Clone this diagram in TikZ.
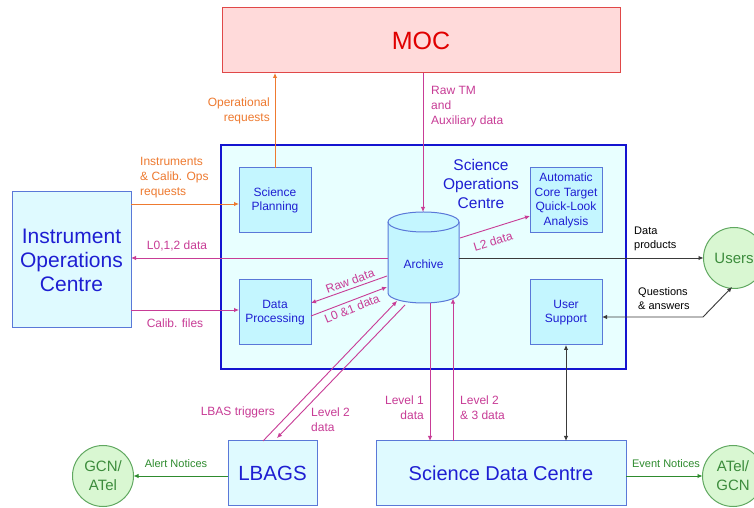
\documentclass[tikz,border=0pt]{standalone}
\usepackage{fontspec}
\setmainfont{Liberation Sans}
\usetikzlibrary{arrows.meta}
\definecolor{mag}{HTML}{C83C96}
\definecolor{orng}{HTML}{EE7A30}
\definecolor{tblue}{HTML}{1E1ED2}
\definecolor{boxb}{HTML}{5A78D8}
\definecolor{socb}{HTML}{1414D0}
\definecolor{boxf}{HTML}{C4F6FF}
\definecolor{socf}{HTML}{E8FFFF}
\definecolor{bigf}{HTML}{DFFAFF}
\definecolor{mocf}{HTML}{FFDADA}
\definecolor{mocb}{HTML}{E04848}
\definecolor{moct}{HTML}{E00000}
\definecolor{grn}{HTML}{2E8B2E}
\definecolor{circf}{HTML}{D9F7D2}
\definecolor{circb}{HTML}{60A860}
\definecolor{circt}{HTML}{3C8C3C}
\definecolor{dgray}{HTML}{3A3A3A}
\tikzset{
  smallbox/.style={draw=boxb, fill=boxf, line width=1pt, text=tblue, align=center,
    inner sep=0pt, outer sep=0pt, minimum width=72, minimum height=65,
    font=\fontsize{12}{14.7}\selectfont},
  bigbox/.style={draw=boxb, fill=bigf, line width=1pt, text=tblue, align=center,
    inner sep=0pt, outer sep=0pt},
  circ/.style={circle, draw=circb, fill=circf, line width=1pt, text=circt, align=center,
    inner sep=0pt, outer sep=0pt, minimum size=61, font=\fontsize{15}{19}\selectfont},
  lab/.style={font=\fontsize{12}{15}\selectfont, inner sep=0pt},
  slab/.style={font=\fontsize{11}{14}\selectfont, inner sep=0pt},
  magline/.style={draw=mag, line width=0.9pt},
  orline/.style={draw=orng, line width=0.9pt},
  grline/.style={draw=grn, line width=0.9pt},
  blkline/.style={draw=dgray, line width=0.9pt},
}
\begin{document}
\begin{tikzpicture}[x=1pt,y=1pt,>={Latex[length=5pt,width=4.5pt]}]
\useasboundingbox (0,0) rectangle (754,508);
\clip (0,0) rectangle (754,508);
\fill[white] (0,0) rectangle (754,508);
% SOC
\node[draw=socb, fill=socf, line width=2.2pt, inner sep=0pt, outer sep=0pt,
  minimum width=405, minimum height=224] (soc) at (423.5,251) {};
\node[text=tblue, align=center, font=\fontsize{15.5}{19}\selectfont] (soct) at (481,324)
  {Science\\Operations\\Centre};
% MOC
\node[draw=mocb, fill=mocf, line width=1pt, inner sep=0pt, outer sep=0pt,
  minimum width=398, minimum height=65, text=moct, font=\fontsize{25}{30}\selectfont]
  (moc) at (421,467.5) {MOC};
% boxes
\node[smallbox] (sp) at (275,307.5) {Science\\Planning};
\node[smallbox] (auto) at (566,307.5) {Automatic\\Core Target\\Quick-Look\\Analysis};
\node[smallbox] (dp) at (275,195.5) {Data\\Processing};
\node[smallbox] (us) at (566,195.5) {User\\Support};
\node[bigbox, minimum width=119, minimum height=136, font=\fontsize{21}{24}\selectfont]
  (ioc) at (71.5,248) {Instrument\\Operations\\Centre};
\node[bigbox, minimum width=89, minimum height=65, font=\fontsize{20.5}{24}\selectfont]
  (lbags) at (272.5,34.5) {LBAGS};
\node[bigbox, minimum width=250, minimum height=65, font=\fontsize{20}{24}\selectfont]
  (sdc) at (501,34.5) {Science Data Centre};
\node[circ] (users) at (734,250) {Users};
\node[circ] (gcn) at (103,32) {GCN/\\ATel};
\node[circ] (atel) at (733,32) {ATel/\\GCN};
% archive cylinder
\path[draw=boxb, fill=boxf, line width=1pt] (388,286) -- (388,215)
  arc[start angle=180, end angle=360, x radius=35.5, y radius=10] -- (459,286)
  arc[start angle=0, end angle=180, x radius=35.5, y radius=10] -- cycle;
\draw[draw=boxb, line width=1pt] (388,286) arc[start angle=180, end angle=360, x radius=35.5, y radius=10];
\node[text=tblue, font=\fontsize{12}{14}\selectfont] (archive) at (423.5,244) {Archive};
\coordinate (arTop) at (423,296);
\coordinate (arL) at (388,250);
\coordinate (arR) at (459,250);
\coordinate (arRU) at (460,270);
\coordinate (arRaw) at (387,232);
\coordinate (arL01) at (387,221);
\coordinate (arLBAS) at (397,207);
\coordinate (arLev2) at (405,203);
\coordinate (arL1) at (430,205.2);
\coordinate (arL23) at (453,209.4);
\coordinate (qbend) at (703,191);
\coordinate (qend) at (732,221);
\coordinate (lbTop) at (263,67);
\coordinate (lbIn) at (277,70);
% orange
\draw[orline,->] (sp.north) -- (sp.north |- moc.south);
\node[lab, text=orng, align=right, anchor=east] (opreq) at (270,397.5) {Operational\\requests};
\draw[orline,->] (ioc.east |- 0,304) -- (sp.west |- 0,304);
\node[lab, text=orng, align=left, anchor=west] (insreq) at (140,330) {Instruments\\\& Calib. Ops\\requests};
% magenta
\draw[magline,->] (arL) -- (ioc.east |- arL);
\node[lab, text=mag] (l012) at (177,262) {L0,1,2 data};
\draw[magline,->] (ioc.east |- 0,198) -- (dp.west |- 0,198);
\node[lab, text=mag] (calib) at (175,185) {Calib. files};
\draw[magline,->] (arTop |- moc.south) -- (arTop);
\node[lab, text=mag, align=left, anchor=west] (rawtm) at (431,401) {Raw TM\\and\\Auxiliary data};
\draw[magline,->] (arRU) -- (auto.west |- 0,292);
\node[lab, text=mag, rotate=17.4] (l2) at (493,267) {L2 data};
\draw[magline,->] (arRaw) -- (dp.east |- 0,205);
\node[lab, text=mag, rotate=20] (rawd) at (350,227) {Raw data};
\draw[magline,->] (dp.east |- 0,192) -- (arL01);
\node[lab, text=mag, rotate=22] (l01) at (352,199.5) {L0 \&1 data};
\draw[magline,->] (lbTop) -- (arLBAS);
\node[lab, text=mag, anchor=east] (lbast) at (275,96) {LBAS triggers};
\draw[magline,->] (arLev2) -- (lbIn);
\node[lab, text=mag, align=left, anchor=west] (lev2) at (311,88.5) {Level 2\\data};
\draw[magline,->] (arL1) -- (arL1 |- sdc.north);
\node[lab, text=mag, align=right, anchor=east] (lev1) at (424,100.5) {Level 1\\data};
\draw[magline,->] (arL23 |- sdc.north) -- (arL23);
\node[lab, text=mag, align=left, anchor=west] (lev23) at (460,100.5) {Level 2\\\& 3 data};
% black
\draw[blkline,->] (arR) -- (users.west |- arR);
\node[slab, align=left, anchor=west] (dprod) at (634,269) {Data\\products};
\draw[blkline,<->] (us.east |- qbend) -- (qbend) -- (qend);
\node[slab, align=left, anchor=west] (qa) at (638,209) {Questions\\\& answers};
\draw[blkline,<->] (us.south) -- (us.south |- sdc.north);
% green
\draw[grline,->] (lbags.west |- gcn.east) -- (gcn.east);
\node[slab, text=grn] (alert) at (176,44) {Alert Notices};
\draw[grline,->] (sdc.east |- atel.west) -- (atel.west);
\node[slab, text=grn] (event) at (666,44) {Event Notices};
\end{tikzpicture}
\end{document}
